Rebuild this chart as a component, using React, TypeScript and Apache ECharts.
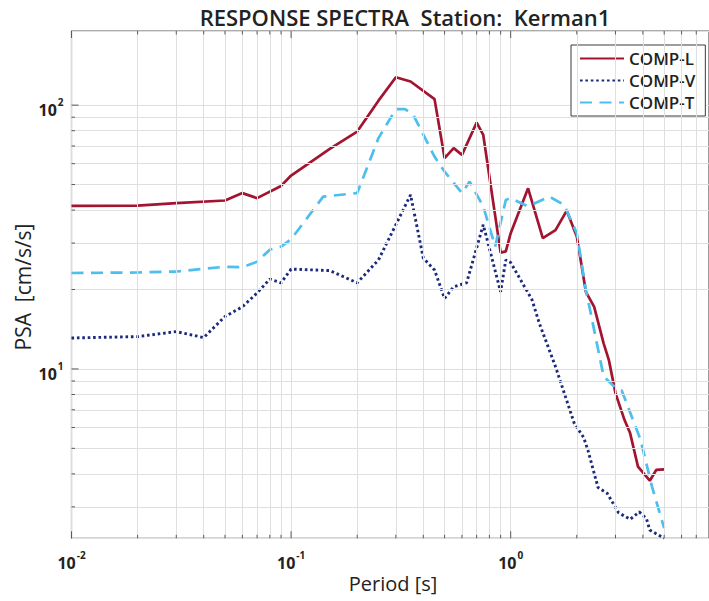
import React, { useEffect, useRef } from 'react';
import * as echarts from 'echarts';

const FONT = '"Open Sans", "Noto Sans", sans-serif';
const TITLE = 'RESPONSE SPECTRA  Station:  Kerman1';
const X_NAME = 'Period [s]';
const Y_NAME = 'PSA  [cm/s/s]';
const SERIES_NAMES = ['COMP-L', 'COMP-V', 'COMP-T'];

const X_MIN = 0.01;
const X_MAX = 8;
const Y_MIN = 2.28;
const Y_MAX = 191;

// [period (s), PSA (cm/s/s)]
const COMP_L: number[][] = [
  [0.01, 41.5], [0.02, 41.6], [0.03, 42.5], [0.05, 43.5], [0.06, 46.4], [0.07, 44.4],
  [0.09, 49.4], [0.1, 54.1], [0.15, 68.2], [0.2, 79.4], [0.25, 104], [0.3, 127.6],
  [0.35, 122.9], [0.45, 105.4], [0.5, 63], [0.55, 68.7], [0.6, 64.8], [0.7, 85.9],
  [0.75, 77.1], [0.9, 27.6], [0.95, 27.9], [1.0, 32.7], [1.2, 48.4], [1.4, 31.3],
  [1.6, 33.6], [1.8, 39.8], [2.0, 31.8], [2.2, 19.6], [2.4, 17.2], [2.65, 12.5],
  [2.8, 10.8], [3.0, 8.1], [3.3, 6.4], [3.5, 5.7], [3.8, 4.26], [4.3, 3.77],
  [4.6, 4.14], [5.0, 4.16],
];

const COMP_V: number[][] = [
  [0.01, 13.1], [0.02, 13.26], [0.03, 13.85], [0.04, 13.15], [0.05, 15.8], [0.06, 17.2],
  [0.07, 19.4], [0.08, 21.9], [0.09, 21.2], [0.1, 23.9], [0.15, 23.6], [0.2, 21.2],
  [0.25, 25.9], [0.35, 45.7], [0.4, 26.3], [0.45, 23.7], [0.5, 18.5], [0.55, 20.5],
  [0.63, 21.2], [0.75, 35.2], [0.9, 19.6], [0.95, 25.9], [1.0, 25.3], [1.25, 18.3],
  [1.35, 14.9], [1.6, 10.2], [1.95, 6.2], [2.15, 5.5], [2.25, 4.9], [2.5, 3.55],
  [2.75, 3.38], [3.1, 2.85], [3.5, 2.69], [3.85, 2.87], [4.15, 2.71], [4.3, 2.45],
  [5.0, 2.28],
];

const COMP_T: number[][] = [
  [0.01, 23.1], [0.02, 23.2], [0.03, 23.4], [0.05, 24.4], [0.06, 24.3], [0.07, 25.5],
  [0.08, 28.3], [0.09, 29.1], [0.1, 31], [0.14, 45], [0.2, 46.4], [0.25, 75],
  [0.3, 96.6], [0.33, 96.6], [0.36, 91.9], [0.45, 63.8], [0.5, 56], [0.6, 46.4],
  [0.65, 51.3], [0.75, 41.3], [0.85, 29.1], [0.95, 43.7], [1.0, 44.4], [1.2, 41.3],
  [1.5, 45], [1.75, 41.9], [2.0, 32.7], [2.2, 19.9], [2.3, 16.7], [2.65, 9.35],
  [3.0, 8.5], [3.2, 8.3], [3.9, 5.4], [4.4, 3.58], [5.0, 2.49],
];

const X_TICKS = [
  0.01, 0.02, 0.03, 0.04, 0.05, 0.06, 0.07, 0.08, 0.09,
  0.1, 0.2, 0.3, 0.4, 0.5, 0.6, 0.7, 0.8, 0.9,
  1, 2, 3, 4, 5, 6, 7,
];
const Y_TICKS = [3, 4, 5, 6, 7, 8, 9, 10, 20, 30, 40, 50, 60, 70, 80, 90, 100];
const X_MINOR_GRID = X_TICKS.filter((v) => ![0.01, 0.1, 1].includes(v));
const Y_MINOR_GRID = Y_TICKS.filter((v) => ![10, 100].includes(v));

const RED = '#A2142F';
const NAVY = '#1C2A7E';
const SKY = '#4DBEEE';
const GRID_C = '#dfdfdf';
const AXIS_C = '#5a5a5a';
const TEXT_C = '#222';

const isMajor = (v: number) => {
  const l = Math.log10(v);
  return Math.abs(l - Math.round(l)) < 1e-6;
};

export default function App() {
  const ref = useRef<HTMLDivElement>(null);
  useEffect(() => {
    const el = ref.current;
    if (!el) return;
    const chart = echarts.init(el, null, { renderer: 'svg' });
    const fmt = (v: number) => (isMajor(v) ? `{b|10}{e|${Math.round(Math.log10(v))}}` : '');
    const rich = {
      b: { fontSize: 16, fontWeight: 'bold', color: TEXT_C, lineHeight: 26, fontFamily: FONT },
      e: { fontSize: 10, fontWeight: 'bold', color: TEXT_C, lineHeight: 12, verticalAlign: 'top', fontFamily: FONT, padding: [0, 0, 0, 1] },
    };
    const tickLine = (x1: number, y1: number, x2: number, y2: number) => ({
      type: 'line',
      shape: { x1, y1, x2, y2 },
      style: { stroke: AXIS_C, lineWidth: 1 },
    });
    chart.setOption({
      animation: false,
      backgroundColor: '#fff',
      textStyle: { fontFamily: FONT },
      title: {
        text: TITLE,
        left: 400,
        top: 1,
        textAlign: 'center',
        textStyle: { fontSize: 22, fontWeight: 600, color: TEXT_C, fontFamily: FONT },
      },
      legend: {
        data: SERIES_NAMES,
        orient: 'vertical',
        left: 571,
        top: 45,
        backgroundColor: '#fff',
        borderColor: '#3a3a3a',
        borderWidth: 1,
        borderRadius: 0,
        padding: [5, 10, 5, 8],
        itemGap: 5,
        itemWidth: 44,
        itemHeight: 15,
        itemStyle: { color: 'transparent', borderColor: 'transparent', borderWidth: 0, opacity: 0 },
        textStyle: { fontSize: 17, fontWeight: 600, color: TEXT_C, fontFamily: FONT },
      },
      grid: {
        left: 71.5,
        top: 31,
        width: 657,
        height: 507.3,
        show: true,
        borderColor: AXIS_C,
        borderWidth: 1.2,
        backgroundColor: 'transparent',
      },
      xAxis: {
        type: 'log',
        logBase: 10,
        min: X_MIN,
        max: X_MAX,
        axisLine: { show: false },
        axisTick: { show: false },
        splitLine: { show: true, lineStyle: { color: GRID_C, width: 1 } },
        axisLabel: { formatter: fmt, rich, margin: 12, showMaxLabel: false },
      },
      yAxis: {
        type: 'log',
        logBase: 10,
        min: Y_MIN,
        max: Y_MAX,
        axisLine: { show: false },
        axisTick: { show: false },
        splitLine: { show: true, lineStyle: { color: GRID_C, width: 1 } },
        axisLabel: { formatter: fmt, rich, margin: 8, padding: [10, 0, 0, 0], showMinLabel: false, showMaxLabel: false },
      },
      graphic: [
        {
          type: 'text',
          x: 393,
          y: 583,
          style: { text: X_NAME, fontSize: 20, fontFamily: FONT, fill: TEXT_C, align: 'center', verticalAlign: 'middle', textAlign: 'center', textVerticalAlign: 'middle' },
        },
        {
          type: 'text',
          x: 23,
          y: 287,
          rotation: Math.PI / 2,
          style: { text: Y_NAME, fontSize: 21, fontFamily: FONT, fill: TEXT_C, align: 'center', verticalAlign: 'middle', textAlign: 'center', textVerticalAlign: 'middle' },
        },
      ],
      series: [
        {
          type: 'line',
          data: [[X_MIN, 10]],
          silent: true,
          z: 1,
          showSymbol: false,
          lineStyle: { opacity: 0 },
          markLine: {
            silent: true,
            symbol: ['none', 'none'],
            label: { show: false },
            emphasis: { disabled: true },
            lineStyle: { color: GRID_C, width: 1, type: 'solid' },
            data: [
              ...X_MINOR_GRID.map((v) => ({ xAxis: v })),
              ...Y_MINOR_GRID.map((v) => ({ yAxis: v })),
            ],
          },
        },
        {
          type: 'custom',
          silent: true,
          z: 6,
          data: X_TICKS.map((v) => [v, Y_MIN]),
          renderItem: (params: any, api: any) => {
            const v = api.value(0);
            const b = api.coord([v, Y_MIN]);
            const t = api.coord([v, Y_MAX]);
            const len = isMajor(v) ? 7 : 3.5;
            return {
              type: 'group',
              children: [tickLine(b[0], b[1], b[0], b[1] - len), tickLine(t[0], t[1], t[0], t[1] + len)],
            };
          },
        },
        {
          type: 'custom',
          silent: true,
          z: 6,
          data: Y_TICKS.map((v) => [X_MIN, v]),
          renderItem: (params: any, api: any) => {
            const v = api.value(1);
            const l = api.coord([X_MIN, v]);
            const len = isMajor(v) ? 7 : 3.5;
            return tickLine(l[0], l[1], l[0] + len, l[1]);
          },
        },
        {
          name: 'COMP-L',
          type: 'line',
          data: COMP_L,
          symbol: 'none',
          showSymbol: false,
          z: 3,
          itemStyle: { color: RED },
          lineStyle: { color: RED, width: 2.7 },
        },
        {
          name: 'COMP-V',
          type: 'line',
          data: COMP_V,
          symbol: 'none',
          showSymbol: false,
          z: 3,
          itemStyle: { color: NAVY },
          lineStyle: { color: NAVY, width: 2.9, type: [2.6, 2.8], cap: 'butt' },
        },
        {
          name: 'COMP-T',
          type: 'line',
          data: COMP_T,
          symbol: 'none',
          showSymbol: false,
          z: 3,
          itemStyle: { color: SKY },
          lineStyle: { color: SKY, width: 2.7, type: [12, 7.5] },
        },
      ],
    });
    return () => chart.dispose();
  }, []);
  return (
    <div
      ref={ref}
      style={{ position: 'fixed', left: 0, top: 0, width: 709, height: 601, overflow: 'hidden', background: '#fff' }}
    />
  );
}
